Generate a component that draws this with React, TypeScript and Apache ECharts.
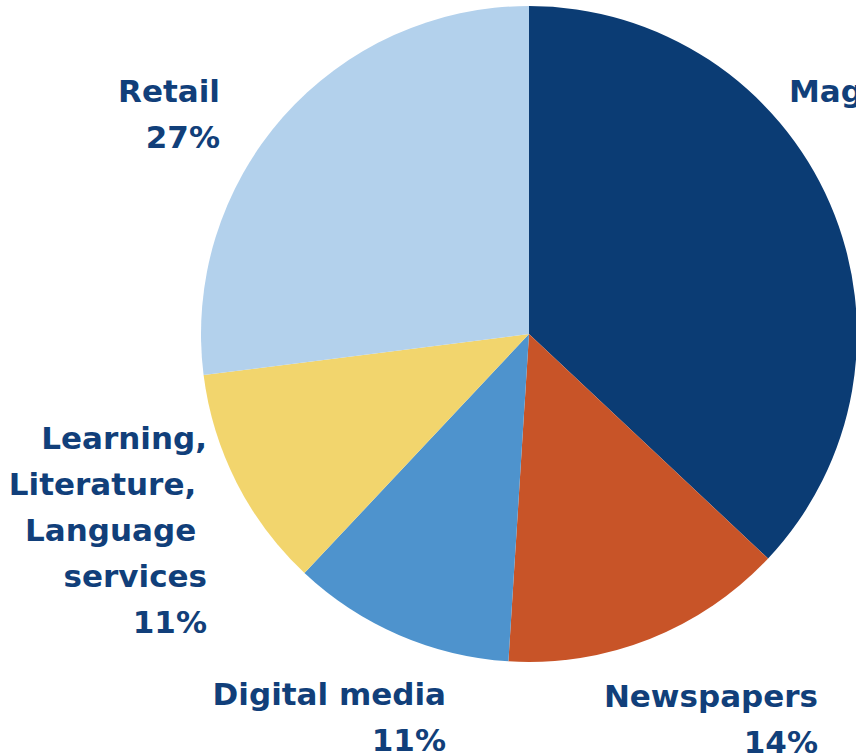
import React, { useEffect, useRef } from "react";
import * as echarts from "echarts";

const categories = [
  "Magazines",
  "Newspapers",
  "Digital media",
  "Learning,\nLiterature, \nLanguage \nservices",
  "Retail",
];
const shares = [37, 14, 11, 11, 27];
const colors = ["#0B3C74", "#C85428", "#4E93CD", "#F2D56D", "#B3D1EC"];

// label anchor positions (px) : [right edge x, block centre y]
const labelAnchors: [number, number][] = [
  [974, 114],
  [818, 719],
  [446, 717],
  [207, 530],
  [220, 114],
];

export default function App() {
  const ref = useRef<HTMLDivElement>(null);
  useEffect(() => {
    if (!ref.current) return;
    const chart = echarts.init(ref.current, undefined, { renderer: "svg" });
    chart.setOption({
      animation: false,
      backgroundColor: "#ffffff",
      series: [
        {
          type: "pie",
          center: [529, 334],
          radius: 328,
          startAngle: 90,
          clockwise: true,
          avoidLabelOverlap: false,
          silent: true,
          itemStyle: { borderWidth: 0 },
          data: categories.map((c, i) => ({
            name: c,
            value: shares[i],
            itemStyle: { color: colors[i] },
          })),
          label: {
            show: true,
            position: "outside",
            formatter: (p: any) => `${p.name}\n${p.value}%`,
            fontFamily: "DejaVu Sans",
            fontWeight: "bold",
            fontSize: 31,
            lineHeight: 46,
            color: "#113F7A",
          },
          labelLine: { show: false },
          labelLayout: (params: any) => {
            const a = labelAnchors[params.dataIndex];
            return {
              x: a[0],
              y: a[1],
              align: "right",
              verticalAlign: "middle",
              hideOverlap: false,
            };
          },
        },
      ],
    });
    return () => chart.dispose();
  }, []);
  return (
    <div
      ref={ref}
      style={{ position: "absolute", left: 0, top: 0, width: 856, height: 755 }}
    />
  );
}
